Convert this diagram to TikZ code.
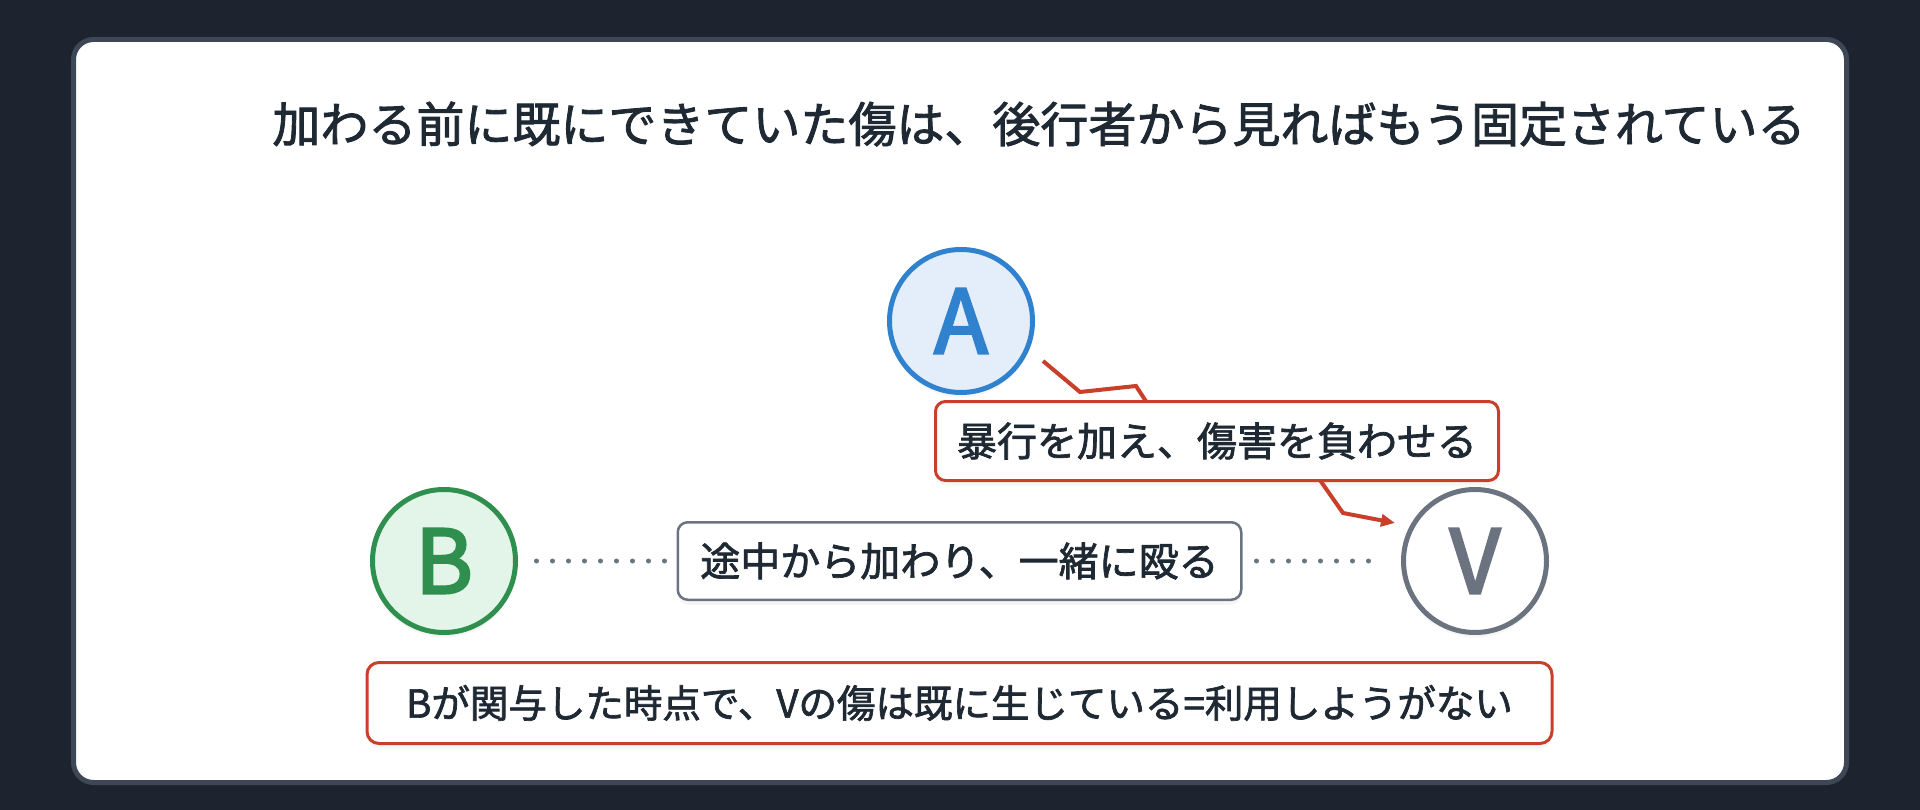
\documentclass[tikz,border=0pt]{standalone}
\usepackage{fontspec}
\setmainfont{Noto Sans CJK JP}[FakeBold=1.8]
\newfontfamily\actorfont{Noto Sans CJK JP}[FakeBold=3]
\usetikzlibrary{arrows.meta, positioning, calc, shadows}
\definecolor{pagebg}{HTML}{1D2430}
\definecolor{cardline}{HTML}{3E4756}
\definecolor{ink}{HTML}{1F2933}
\definecolor{ablue}{HTML}{3182CE}
\definecolor{ablueFill}{HTML}{E4EEFA}
\definecolor{bgreen}{HTML}{2F8F4E}
\definecolor{bgreenFill}{HTML}{E3F5E8}
\definecolor{vgray}{HTML}{6B7380}
\definecolor{hurtred}{HTML}{C8402A}
\tikzset{%
    actor/.style = {circle, line width=5pt, minimum size=143pt, inner sep=0pt,
        font=\actorfont\fontsize{88pt}{88pt}\selectfont,
        drop shadow={opacity=0.07, shadow xshift=0pt, shadow yshift=-5pt}},
    box/.style = {rectangle, rounded corners=10pt, fill=white, inner sep=0pt,
        align=center, text=ink, font=\fontsize{40pt}{48pt}\selectfont,
        drop shadow={opacity=0.07, shadow xshift=0pt, shadow yshift=-5pt}},
    hurtbox/.style = {box, draw=hurtred, line width=3pt,
        minimum width=563pt, minimum height=79pt},
    joinbox/.style = {box, draw=vgray, line width=2.5pt,
        minimum width=563.5pt, minimum height=77.5pt},
    notebox/.style = {box, draw=hurtred, line width=3pt, rounded corners=12pt,
        minimum width=1185pt, minimum height=81pt,
        font=\fontsize{38.5pt}{46pt}\selectfont},
    dotline/.style = {draw=vgray, line width=5pt, line cap=round,
        dash pattern=on 0pt off 16pt},
    hurt/.style = {draw=hurtred, line width=4pt,
        -{Triangle[length=14pt, width=12pt]}}
}
\begin{document}
\begin{tikzpicture}[x=1pt, y=-1pt, node distance=60pt]
    \useasboundingbox (0,0) rectangle (1920,810);
    \fill[pagebg] (0,0) rectangle (1920,810);
    \draw[cardline, line width=5pt, fill=white, rounded corners=20pt]
        (73.5,39.5) rectangle (1846.5,782.5);
    \node[text=ink, font=\fontsize{48pt}{56pt}\selectfont] (head) at (1039,124)
        {加わる前に既にできていた傷は、後行者から見ればもう固定されている};

    % the three people
    \node[actor, draw=ablue, fill=ablueFill, text=ablue] (A) at (961,321) {A};
    \node[actor, draw=bgreen, fill=bgreenFill, text=bgreen] (B) at (444,561) {B};
    \node[actor, draw=vgray, fill=white, text=vgray] (V) at (1475,561) {V};

    % A hurts V
    \coordinate (hitStart) at ($(A)+(82,40)$);
    \coordinate (hitEnd) at ($(V)+(-80,-38)$);
    \draw[hurt] (hitStart) -- ++(37,31) -- ++(56,-6) -- ++(30,46)
        -- ++(135,21) -- ++(42,60) -- (hitEnd);
    \node[hurtbox] (hit) at (1217,441) {暴行を加え、傷害を負わせる};

    % B joins halfway
    \node[joinbox] (join) at ($(B)!0.5!(V)$) {途中から加わり、一緒に殴る};
    \draw[dotline, shorten <=18.5pt, shorten >=11.5pt] (B) -- (join);
    \draw[dotline, shorten <=14pt, shorten >=31.5pt] (join) -- (V);

    \node[notebox, below=60pt of join] (note)
        {Bが関与した時点で、Vの傷は既に生じている=利用しようがない};
\end{tikzpicture}
\end{document}
